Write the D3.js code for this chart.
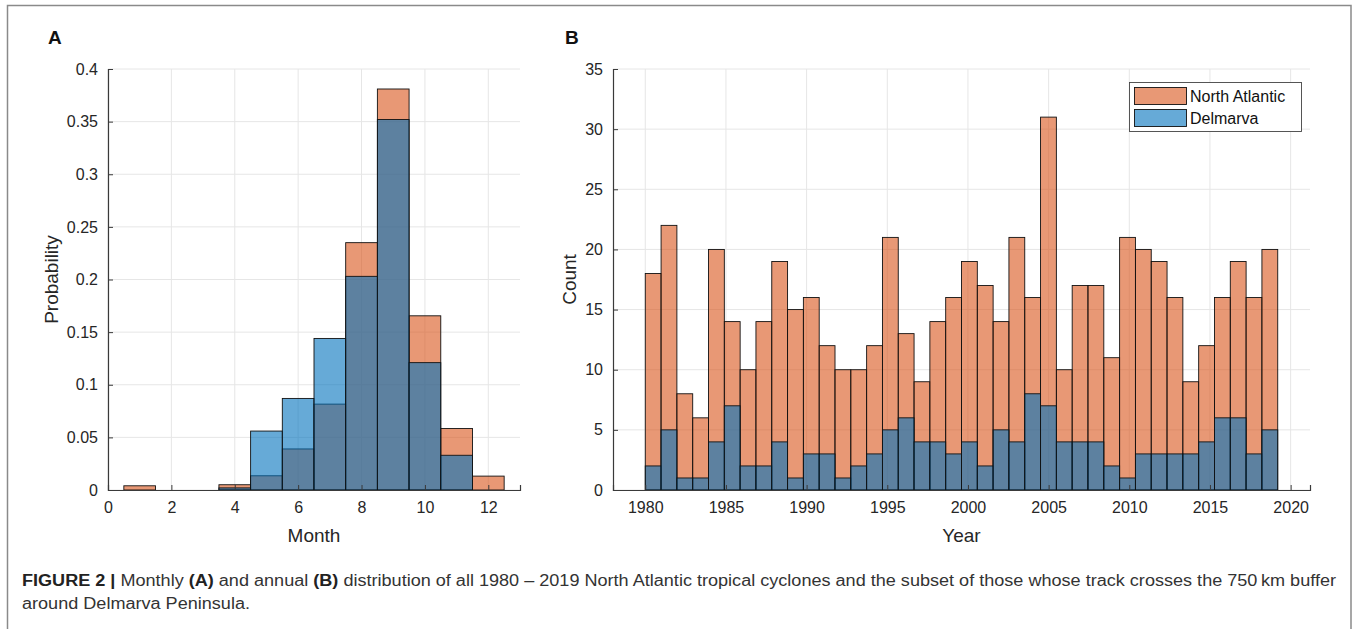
<!DOCTYPE html>
<html>
<head>
<meta charset="utf-8">
<script src="https://cdn.jsdelivr.net/npm/d3@7/dist/d3.min.js"></script>
<style>
  html, body { margin: 0; padding: 0; background: #fff; }
  svg { display: block; }
  text { font-family: "Liberation Sans", Arial, Helvetica, sans-serif; }
</style>
</head>
<body>
<svg id="fig" width="1358" height="629"></svg>
<script>
// Monthly probability of tropical cyclones (panel A)
const months = [1, 2, 3, 4, 5, 6, 7, 8, 9, 10, 11, 12];
const naMonthProb = [0.004, 0, 0, 0.005, 0.0135, 0.039, 0.0816, 0.235, 0.381, 0.1655, 0.0584, 0.0132];
const dmMonthProb = [0, 0, 0, 0.002, 0.056, 0.087, 0.144, 0.203, 0.352, 0.121, 0.033, 0];
const monthTicks = [0, 2, 4, 6, 8, 10, 12];
const probTicks = [0, 0.05, 0.1, 0.15, 0.2, 0.25, 0.3, 0.35, 0.4];

// Annual counts (panel B)
const years = d3.range(1980, 2020);
const naYearCount = [18, 22, 8, 6, 20, 14, 10, 14, 19, 15, 16, 12, 10, 10, 12, 21, 13, 9, 14, 16,
                     19, 17, 14, 21, 16, 31, 10, 17, 17, 11, 21, 20, 19, 16, 9, 12, 16, 19, 16, 20];
const dmYearCount = [2, 5, 1, 1, 4, 7, 2, 2, 4, 1, 3, 3, 1, 2, 3, 5, 6, 4, 4, 3,
                     4, 2, 5, 4, 8, 7, 4, 4, 4, 2, 1, 3, 3, 3, 3, 4, 6, 6, 3, 5];
const yearBinWidth = 0.98;
const yearTicks = [1980, 1985, 1990, 1995, 2000, 2005, 2010, 2015, 2020];
const countTicks = [0, 5, 10, 15, 20, 25, 30, 35];

const seriesNames = ["North Atlantic", "Delmarva"];

// histogram face colours (drawn semi-transparent, so overlaps darken)
const naColor = "rgb(217,83,25)";
const dmColor = "rgb(0,114,189)";
const faceAlpha = 0.6;
const axisColor = "#3a3a3a";
const gridColor = "#e6e6e6";
const textColor = "#262626";

const svg = d3.select("#fig");

// outer figure frame
svg.append("rect")
  .attr("x", 7.5).attr("y", 5.5)
  .attr("width", 1343.5).attr("height", 640)
  .attr("fill", "none").attr("stroke", "#8a8a8a").attr("stroke-width", 1.5);

function drawPanel(opt) {
  const g = svg.append("g");
  const x = opt.x, y = opt.y;
  const [x0, x1] = x.range();
  const [yb, yt] = y.range();

  // grid
  g.selectAll(".vg").data(opt.xTicks).join("line")
    .attr("x1", d => x(d)).attr("x2", d => x(d))
    .attr("y1", yb).attr("y2", yt)
    .attr("stroke", gridColor).attr("stroke-width", 1);
  g.selectAll(".hg").data(opt.yTicks).join("line")
    .attr("x1", x0).attr("x2", x1)
    .attr("y1", d => y(d)).attr("y2", d => y(d))
    .attr("stroke", gridColor).attr("stroke-width", 1);

  // bars: total series first, subset drawn over it
  opt.series.forEach(s => {
    g.selectAll(null).data(s.bins.filter(b => b.v > 0)).join("rect")
      .attr("x", b => x(b.lo))
      .attr("width", b => x(b.hi) - x(b.lo))
      .attr("y", b => y(b.v))
      .attr("height", b => y(0) - y(b.v))
      .attr("fill", s.color).attr("fill-opacity", faceAlpha)
      .attr("stroke", "#111").attr("stroke-width", 0.9);
  });

  // axes (inward ticks, left and bottom only)
  const xAxis = d3.axisBottom(x).tickValues(opt.xTicks).tickSize(-5).tickPadding(12).tickFormat(opt.xFmt);
  const yAxis = d3.axisLeft(y).tickValues(opt.yTicks).tickSize(-5).tickPadding(10).tickFormat(opt.yFmt);
  const ax = g.append("g").attr("transform", `translate(0,${yb})`).call(xAxis);
  const ay = g.append("g").attr("transform", `translate(${x0},0)`).call(yAxis);
  [ax, ay].forEach(a => {
    a.select(".domain").attr("stroke", axisColor).attr("stroke-width", 1.2);
    a.selectAll(".tick line").attr("stroke", axisColor).attr("stroke-width", 1);
    a.selectAll(".tick text").attr("fill", textColor)
      .style("font-size", "16px").style("font-family", "'Liberation Sans', Arial, sans-serif");
  });

  // axis titles
  g.append("text")
    .attr("x", (x0 + x1) / 2).attr("y", opt.xTitleY)
    .attr("text-anchor", "middle").attr("fill", textColor)
    .style("font-size", "19px").text(opt.xTitle);
  g.append("text")
    .attr("transform", `translate(${opt.yTitleX},${(yb + yt) / 2}) rotate(-90)`)
    .attr("text-anchor", "middle").attr("fill", textColor)
    .style("font-size", "19px").text(opt.yTitle);

  // panel letter
  g.append("text")
    .attr("x", opt.letterX).attr("y", 44)
    .attr("fill", "#111").style("font-size", "19px").style("font-weight", "bold")
    .text(opt.letter);
  return g;
}

// ---- panel A: monthly distribution ----
const xA = d3.scaleLinear().domain([0, 13]).range([108, 520]);
const yA = d3.scaleLinear().domain([0, 0.4]).range([490, 69]);
const probFmt = d => d === 0 ? "0" : String(+d.toFixed(2));
drawPanel({
  x: xA, y: yA, xTicks: monthTicks, yTicks: probTicks,
  xFmt: d3.format("d"), yFmt: probFmt,
  series: [
    { color: naColor, bins: months.map((m, i) => ({ lo: m - 0.5, hi: m + 0.5, v: naMonthProb[i] })) },
    { color: dmColor, bins: months.map((m, i) => ({ lo: m - 0.5, hi: m + 0.5, v: dmMonthProb[i] })) }
  ],
  xTitle: "Month", xTitleY: 542, yTitle: "Probability", yTitleX: 58,
  letter: "A", letterX: 48
});

// ---- panel B: annual distribution ----
const xB = d3.scaleLinear().domain([1978, 2021.2]).range([613, 1310]);
const yB = d3.scaleLinear().domain([0, 35]).range([490, 69]);
const yearBins = vals => years.map((yr, i) => ({
  lo: 1980 + i * yearBinWidth, hi: 1980 + (i + 1) * yearBinWidth, v: vals[i]
}));
drawPanel({
  x: xB, y: yB, xTicks: yearTicks, yTicks: countTicks,
  xFmt: d3.format("d"), yFmt: d3.format("d"),
  series: [
    { color: naColor, bins: yearBins(naYearCount) },
    { color: dmColor, bins: yearBins(dmYearCount) }
  ],
  xTitle: "Year", xTitleY: 542, yTitle: "Count", yTitleX: 576,
  letter: "B", letterX: 565
});

// legend
const lg = svg.append("g");
lg.append("rect").attr("x", 1129.5).attr("y", 82.5).attr("width", 172).attr("height", 49)
  .attr("fill", "#fff").attr("stroke", "#444").attr("stroke-width", 0.9);
[naColor, dmColor].forEach((c, i) => {
  lg.append("rect").attr("x", 1134.5).attr("y", 87.5 + i * 22).attr("width", 52).attr("height", 17)
    .attr("fill", c).attr("fill-opacity", faceAlpha).attr("stroke", "#111").attr("stroke-width", 0.9);
  lg.append("text").attr("x", 1190).attr("y", 102 + i * 22)
    .attr("fill", "#111").style("font-size", "16px").text(seriesNames[i]);
});

// caption, condensed to fit the figure width
const cap = svg.append("g").attr("fill", "#333");
const line1 = cap.append("text").attr("x", 22).attr("y", 586).style("font-size", "16px");
[["FIGURE 2 | ", true], ["Monthly ", false], ["(A)", true], [" and annual ", false], ["(B)", true],
 [" distribution of all 1980 – 2019 North Atlantic tropical cyclones and the subset of those whose track crosses the 750\u2009km buffer", false]]
  .forEach(([t, b]) => line1.append("tspan").attr("font-weight", b ? "bold" : null)
    .attr("fill", b ? "#222" : null).text(t));
const line2 = cap.append("text").attr("x", 22).attr("y", 609).style("font-size", "16px")
  .text("around Delmarva Peninsula.");
const natural1 = line1.node().getComputedTextLength();
const squeeze = (1336 - 22) / natural1;
line1.attr("textLength", 1336 - 22).attr("lengthAdjust", "spacingAndGlyphs");
line2.attr("textLength", line2.node().getComputedTextLength() * squeeze).attr("lengthAdjust", "spacingAndGlyphs");
</script>
</body>
</html>
